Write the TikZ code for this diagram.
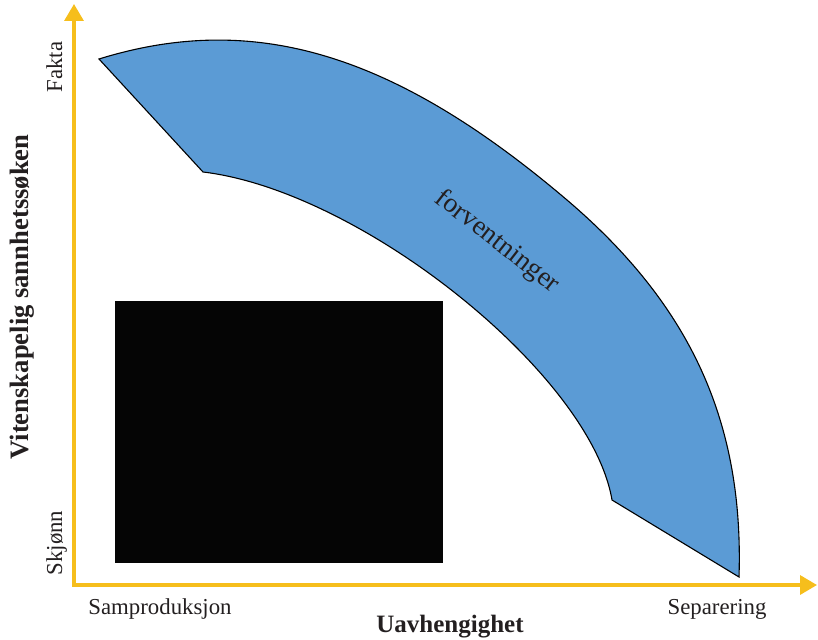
\documentclass[tikz,border=0pt]{standalone}
\usepackage{fontspec}
\setmainfont{Liberation Serif}
\usetikzlibrary{arrows.meta}
\definecolor{axisyellow}{RGB}{246,190,28}
\definecolor{bandblue}{RGB}{91,155,213}
\definecolor{txt}{RGB}{35,31,32}
\begin{document}
\begin{tikzpicture}[x=1pt,y=-1pt,
  axisline/.style={draw=axisyellow,line width=3.4pt,line join=miter,
    {Triangle[length=17pt,width=19pt]}-{Triangle[length=17pt,width=19pt]}},
  band/.style={fill=bandblue,draw=black,line width=1.1pt,line join=miter},
  lbl/.style={text=txt,font=\fontsize{22.8}{26}\selectfont,inner sep=0pt},
  blbl/.style={text=txt,font=\fontsize{25}{28}\selectfont\bfseries,inner sep=0pt}]
\useasboundingbox (0,0) rectangle (818,639);
% axes
\coordinate (ytop) at (74,4);
\coordinate (origin) at (74,585);
\coordinate (xend) at (817,585);
\draw[axisline] (ytop) -- (origin) -- (xend);
% band corners
\coordinate (tl) at (99,59);
\coordinate (il) at (203,172);
\coordinate (ib) at (612,500);
\coordinate (ob) at (739,577);
\coordinate (om) at (567,200);
\path[band] (tl) -- (il)
  .. controls (362,191) and (591,375) .. (ib)
  -- (ob)
  .. controls (744,420) and (689,304) .. (om)
  .. controls (394,53) and (254,11) .. (tl)
  -- cycle;
\node[lbl,rotate=-38,font=\fontsize{27.5}{30}\selectfont] (forv) at (497,242) {forventninger};
% black box
\fill[fill={rgb,255:red,5;green,5;blue,5}] (115,301) rectangle (443,563);
% labels
\node[lbl,rotate=90,anchor=base] (fakta) at (62,67) {Fakta};
\node[lbl,rotate=90,anchor=base] (skj) at (62,543) {Skjønn};
\node[blbl,rotate=90,anchor=base,font=\fontsize{26.6}{29}\selectfont\bfseries] (ylab) at (28,297) {Vitenskapelig sannhetssøken};
\node[lbl,anchor=base] (samp) at (160,614) {Samproduksjon};
\node[lbl,anchor=base] (sep) at (717,614) {Separering};
\node[blbl,anchor=base] (xlab) at (450,632) {Uavhengighet};
\end{tikzpicture}
\end{document}
